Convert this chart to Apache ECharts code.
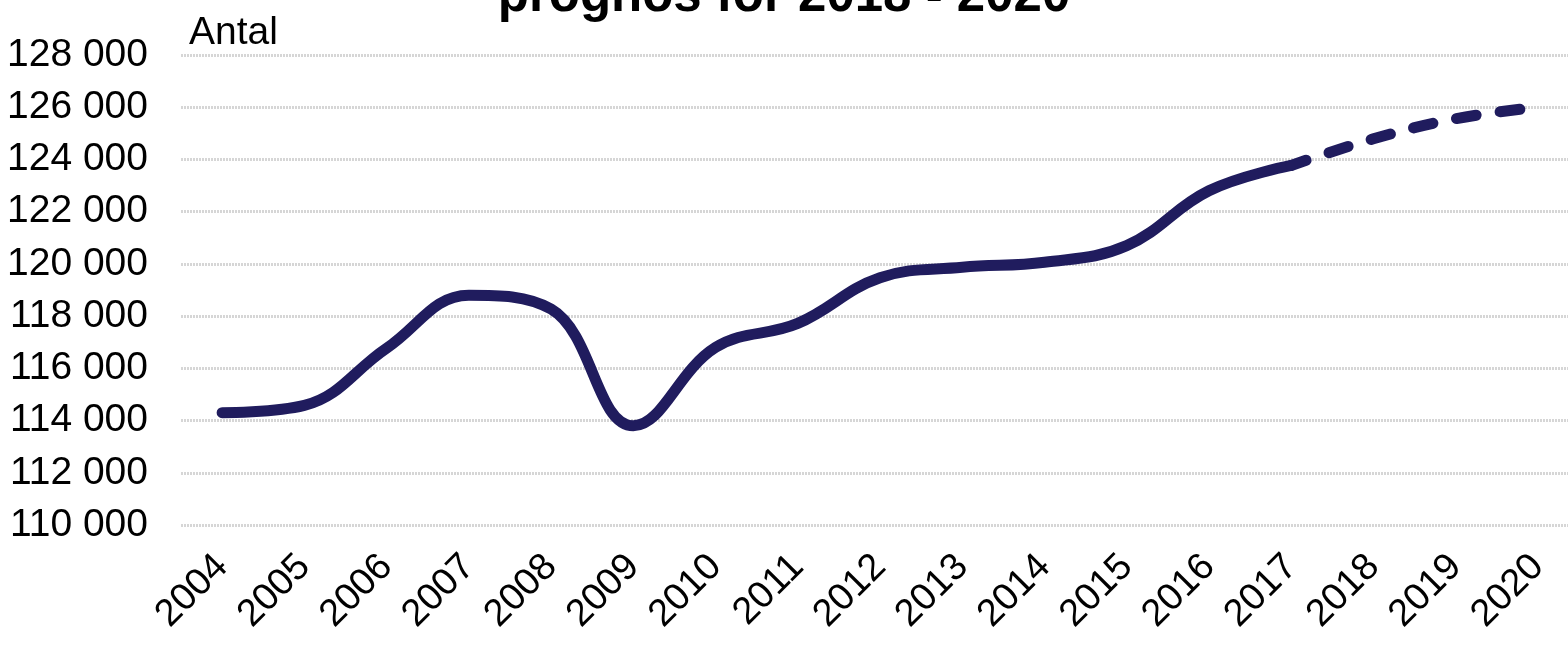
<!DOCTYPE html>
<html>
<head>
<meta charset="utf-8">
<script src="https://cdn.jsdelivr.net/npm/echarts@6/dist/echarts.min.js"></script>
<style>
  html, body { margin: 0; padding: 0; background: #fff; }
  #chart { width: 1568px; height: 649px; }
</style>
</head>
<body>
<div id="chart"></div>
<script>
const years = ['2004', '2005', '2006', '2007', '2008', '2009', '2010', '2011', '2012',
  '2013', '2014', '2015', '2016', '2017', '2018', '2019', '2020']
// utfall 2004-2017
const actual = [114300, 114580, 116770, 118800, 118270, 113800, 116800, 117720, 119470,
  119870, 120060, 120700, 122800, 123770, null, null, null]
// prognos 2017-2020
const forecast = [null, null, null, null, null, null, null, null, null,
  null, null, null, null, 123770, 124790, 125560, 126000]

const lineColor = '#201c5e'
const font = '"Liberation Sans", Arial, sans-serif'

const chart = echarts.init(document.getElementById('chart'))
chart.setOption({
  animation: false,
  title: {
    text: 'prognos för 2018 - 2020',
    left: 'center',
    top: -34,
    textStyle: { fontSize: 51, fontWeight: 'bold', color: '#000', fontFamily: font }
  },
  grid: { left: 181, right: -11, top: 55, bottom: 124, outerBoundsMode: 'none', containLabel: false },
  xAxis: {
    type: 'category',
    data: years,
    boundaryGap: true,
    axisLine: { show: false },
    axisTick: { show: false },
    axisLabel: {
      rotate: 45,
      fontSize: 38,
      color: '#000',
      fontFamily: font,
      margin: 36
    }
  },
  yAxis: {
    type: 'value',
    min: 110000,
    max: 128000,
    interval: 2000,
    name: 'Antal',
    nameLocation: 'end',
    nameGap: 2,
    nameTextStyle: { fontSize: 39, color: '#000', fontFamily: font, align: 'left', padding: [0, 0, 0, 8] },
    axisLine: { show: false },
    axisTick: { show: false },
    axisLabel: {
      fontSize: 39,
      color: '#000',
      fontFamily: font,
      margin: 33,
      formatter: v => String(v).replace(/\B(?=(\d{3})+(?!\d))/g, ' ')
    },
    splitLine: { lineStyle: { color: '#d6d6d6', width: 3, type: [2, 1] } }
  },
  series: [
    {
      type: 'line',
      data: actual,
      smooth: 0.4,
      symbol: 'none',
      lineStyle: { color: lineColor, width: 11, cap: 'round', join: 'round' }
    },
    {
      type: 'line',
      data: forecast,
      smooth: 0.4,
      symbol: 'none',
      lineStyle: { color: lineColor, width: 11, type: [20, 24], dashOffset: 4, cap: 'round', join: 'round' }
    }
  ]
})
</script>
</body>
</html>
